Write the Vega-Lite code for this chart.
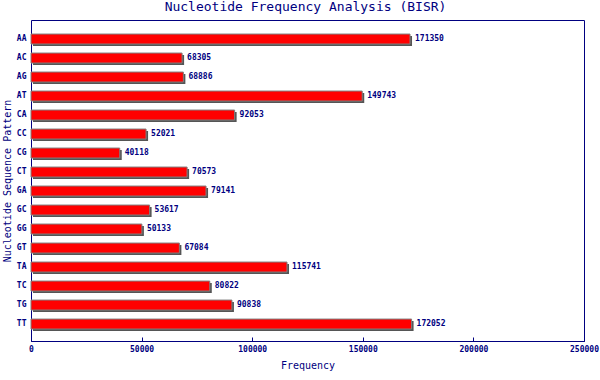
{
  "$schema": "https://vega.github.io/schema/vega-lite/v6.json",
  "autosize": {"type": "none"},
  "padding": {"left": 31, "top": 20, "right": 16, "bottom": 39},
  "width": 553,
  "height": 321,
  "background": "white",
  "title": {"text": "Nucleotide Frequency Analysis (BISR)", "font": "DejaVu Sans Mono", "fontSize": 13, "fontWeight": "normal", "color": "#000080", "anchor": "middle", "offset": 6, "dx": -2},
  "config": {
    "view": {"stroke": "#000080", "strokeWidth": 1},
    "axis": {"domainColor": "#000080", "tickColor": "#000080", "labelColor": "#000080", "titleColor": "#000080", "labelFont": "DejaVu Sans Mono", "titleFont": "DejaVu Sans Mono", "labelFontSize": 8, "labelFontWeight": "bold", "titleFontSize": 10, "titleFontWeight": "normal", "grid": false}
  },
  "data": {"values": [
    {"pattern": "AA", "freq": 171350},
    {"pattern": "AC", "freq": 68305},
    {"pattern": "AG", "freq": 68886},
    {"pattern": "AT", "freq": 149743},
    {"pattern": "CA", "freq": 92053},
    {"pattern": "CC", "freq": 52021},
    {"pattern": "CG", "freq": 40118},
    {"pattern": "CT", "freq": 70573},
    {"pattern": "GA", "freq": 79141},
    {"pattern": "GC", "freq": 53617},
    {"pattern": "GG", "freq": 50133},
    {"pattern": "GT", "freq": 67084},
    {"pattern": "TA", "freq": 115741},
    {"pattern": "TC", "freq": 80822},
    {"pattern": "TG", "freq": 90838},
    {"pattern": "TT", "freq": 172052}
  ]},
  "encoding": {
    "y": {"field": "pattern", "type": "nominal", "sort": null, "scale": {"paddingInner": 0.474, "paddingOuter": 0.684, "align": 0.54}, "axis": {"title": "Nucleotide Sequence Pattern", "ticks": false, "labelPadding": 5, "titlePadding": 4, "domain": false}},
    "x": {"field": "freq", "type": "quantitative", "scale": {"domain": [0, 250000], "nice": false}, "axis": {"title": "Frequency", "values": [0, 50000, 100000, 150000, 200000, 250000], "format": "d", "tickSize": -4, "labelPadding": 8, "titlePadding": 7, "labelFlush": false, "labelOverlap": false}}
  },
  "layer": [
    {"mark": {"type": "bar", "color": "#555555", "xOffset": 2, "x2Offset": 2, "yOffset": 2, "y2Offset": 2}},
    {"mark": {"type": "bar", "fill": "#ff0000", "stroke": "#808080", "strokeWidth": 1}},
    {"mark": {"type": "text", "align": "left", "baseline": "middle", "dx": 5, "font": "DejaVu Sans Mono", "fontSize": 8, "fontWeight": "bold", "color": "#000080"}, "encoding": {"text": {"field": "freq", "type": "quantitative", "format": "d"}}}
  ]
}
